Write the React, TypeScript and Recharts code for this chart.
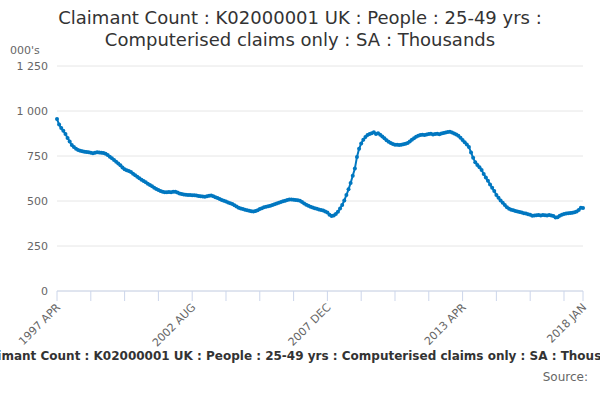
import React from "react";
import { LineChart, Line, XAxis, YAxis, CartesianGrid } from "recharts";

const monthNames = ["JAN", "FEB", "MAR", "APR", "MAY", "JUN", "JUL", "AUG", "SEP", "OCT", "NOV", "DEC"];

// seasonally adjusted claimant count, thousands, one array per calendar year
const y1997 = [955, 925, 905, 890, 872, 850, 830, 811, 800]; // from APR
const y1998 = [790, 783, 779, 776, 774, 772, 771, 768, 765, 768, 771, 770];
const y1999 = [768, 766, 763, 755, 746, 737, 728, 718, 709, 698, 686, 676];
const y2000 = [671, 666, 661, 652, 643, 635, 626, 618, 611, 604, 596, 589];
const y2001 = [582, 574, 567, 561, 555, 551, 548, 549, 550, 549, 551, 552];
const y2002 = [547, 542, 539, 536, 535, 534, 533, 532, 532, 530, 528, 527];
const y2003 = [525, 524, 526, 529, 530, 526, 521, 516, 511, 506, 501, 497];
const y2004 = [492, 487, 483, 477, 470, 463, 459, 455, 452, 449, 446, 443];
const y2005 = [441, 444, 449, 455, 460, 465, 468, 471, 474, 478, 482, 486];
const y2006 = [490, 494, 499, 502, 505, 508, 509, 507, 506, 504, 502, 494];
const y2007 = [486, 479, 473, 468, 464, 460, 457, 453, 450, 447, 442, 436];
const y2008 = [424, 417, 420, 428, 440, 458, 478, 503, 533, 565, 600, 640];
const y2009 = [680, 745, 790, 820, 840, 855, 866, 872, 877, 882, 872, 876];
const y2010 = [868, 858, 848, 838, 829, 822, 817, 813, 812, 811, 813, 815];
const y2011 = [818, 822, 830, 840, 848, 857, 863, 867, 868, 866, 870, 872];
const y2012 = [873, 870, 872, 874, 871, 875, 878, 880, 883, 885, 880, 875];
const y2013 = [870, 862, 852, 839, 826, 814, 800, 770, 740, 715, 700, 688];
const y2014 = [672, 650, 630, 612, 592, 574, 555, 533, 518, 503, 490, 478];
const y2015 = [465, 457, 452, 448, 445, 442, 439, 436, 432, 430, 427, 423];
const y2016 = [418, 420, 421, 422, 420, 422, 421, 420, 422, 420, 416, 409];
const y2017 = [410, 418, 424, 428, 430, 432, 434, 435, 437, 441, 450, 463];
const y2018 = [461]; // JAN

const yearSeries: [number, number, number[]][] = [
  [1997, 3, y1997],
  [1998, 0, y1998],
  [1999, 0, y1999],
  [2000, 0, y2000],
  [2001, 0, y2001],
  [2002, 0, y2002],
  [2003, 0, y2003],
  [2004, 0, y2004],
  [2005, 0, y2005],
  [2006, 0, y2006],
  [2007, 0, y2007],
  [2008, 0, y2008],
  [2009, 0, y2009],
  [2010, 0, y2010],
  [2011, 0, y2011],
  [2012, 0, y2012],
  [2013, 0, y2013],
  [2014, 0, y2014],
  [2015, 0, y2015],
  [2016, 0, y2016],
  [2017, 0, y2017],
  [2018, 0, y2018],
];

const labelledTicks = ["1997 APR", "2002 AUG", "2007 DEC", "2013 APR", "2018 JAN"];
const yTicks = [0, 250, 500, 750, 1000, 1250];

const data = yearSeries.flatMap(([year, firstMonth, values]) =>
  values.map((v, i) => ({ month: `${year} ${monthNames[firstMonth + i]}`, value: v }))
);

// tick marks every 16 months, plus the last month
const xTicks = [
  ...data.filter((_, i) => i % 16 === 0).map((d) => d.month),
  data[data.length - 1].month,
];

const TITLE = "Claimant Count : K02000001 UK : People : 25-49 yrs : Computerised claims only : SA : Thousands";
const COLOR = "#0077c0";
const FONT = "'DejaVu Sans', sans-serif";

const fmtY = (v: number) =>
  v >= 1000 ? `${Math.floor(v / 1000)} ${String(v % 1000).padStart(3, "0")}` : String(v);

function XTick(props: any) {
  const { x, y, payload } = props;
  if (!labelledTicks.includes(payload.value)) return null;
  const tx = x + 4;
  const ty = y + 5;
  return (
    <text
      x={tx}
      y={ty}
      textAnchor="end"
      fill="#666666"
      fontSize={11}
      fontFamily={FONT}
      transform={`rotate(-45, ${tx}, ${ty})`}
    >
      {payload.value}
    </text>
  );
}

export default function App() {
  return (
    <div
      style={{
        position: "absolute",
        left: 0,
        top: 0,
        width: 600,
        height: 400,
        overflow: "hidden",
        background: "#fff",
        fontFamily: FONT,
      }}
    >
      <div
        style={{
          position: "absolute",
          top: 7,
          left: 0,
          width: 600,
          textAlign: "center",
          fontSize: 18,
          lineHeight: "22px",
          color: "#333333",
        }}
      >
        Claimant Count : K02000001 UK : People : 25-49 yrs :
        <br />
        Computerised claims only : SA : Thousands
      </div>
      <div style={{ position: "absolute", top: 44, left: 10, fontSize: 11, color: "#666666" }}>000's</div>

      <LineChart
        width={600}
        height={400}
        data={data}
        margin={{ top: 66, right: 17, bottom: 79, left: 0 }}
      >
        <CartesianGrid vertical={false} stroke="#e6e6e6" />
        <XAxis
          dataKey="month"
          ticks={xTicks}
          interval={0}
          height={30}
          tick={<XTick />}
          tickSize={10}
          tickLine={{ stroke: "#ccd6eb" }}
          axisLine={{ stroke: "#ccd6eb" }}
        />
        <YAxis
          width={57}
          domain={[0, 1250]}
          ticks={yTicks}
          tickFormatter={fmtY}
          axisLine={false}
          tickLine={false}
          tickSize={0}
          tickMargin={9}
          tick={{ fill: "#666666", fontSize: 11, fontFamily: FONT }}
        />
        <Line
          type="linear"
          dataKey="value"
          stroke={COLOR}
          strokeWidth={2}
          dot={{ r: 2, fill: COLOR, stroke: COLOR, strokeWidth: 0 }}
          isAnimationActive={false}
        />
      </LineChart>

      <div
        style={{
          position: "absolute",
          top: 349,
          left: -95,
          width: 800,
          textAlign: "center",
          whiteSpace: "nowrap",
          fontSize: 12,
          fontWeight: "bold",
          color: "#333333",
        }}
      >
        {TITLE}
      </div>
      <div style={{ position: "absolute", top: 370, right: 12, fontSize: 12, color: "#666666" }}>Source:</div>
    </div>
  );
}
